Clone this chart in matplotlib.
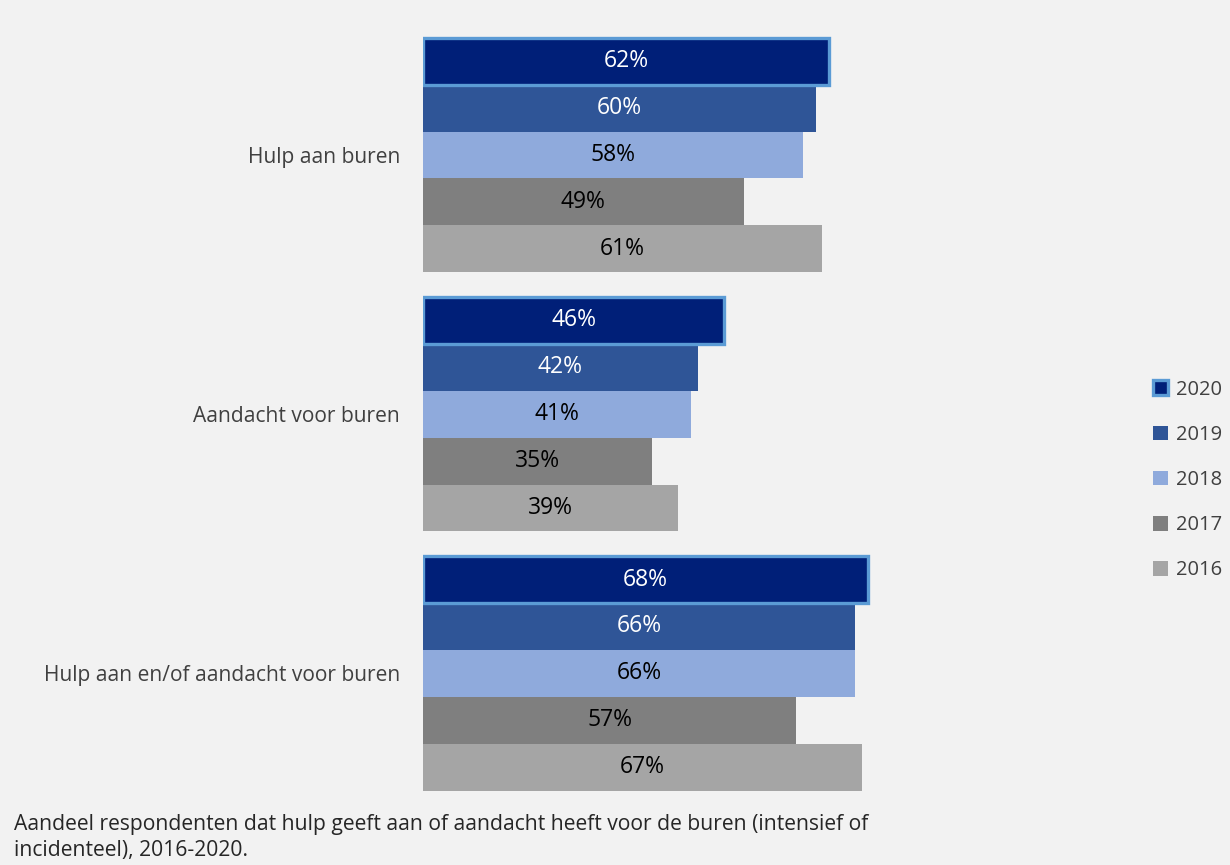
import numpy as np
import matplotlib.pyplot as plt
from matplotlib.patches import Patch

plt.rcParams['font.family'] = ['Open Sans', 'DejaVu Sans']

categories = ['Hulp aan buren', 'Aandacht voor buren', 'Hulp aan en/of aandacht voor buren']
years = ['2020', '2019', '2018', '2017', '2016']
values = {
    '2020': [62, 46, 68],
    '2019': [60, 42, 66],
    '2018': [58, 41, 66],
    '2017': [49, 35, 57],
    '2016': [61, 39, 67],
}
colors = {'2020': '#001f78', '2019': '#2f5597', '2018': '#8faadc',
          '2017': '#7f7f7f', '2016': '#a5a5a5'}
text_colors = {'2020': 'white', '2019': 'white', '2018': 'black',
               '2017': 'black', '2016': 'black'}
caption = ('Aandeel respondenten dat hulp geeft aan of aandacht heeft voor de buren (intensief of\n'
           'incidenteel), 2016-2020.')

bg = '#f2f2f2'
fig = plt.figure(figsize=(12.3, 8.65), dpi=100, facecolor=bg)
ax = fig.add_axes([0.3439, 0.0718, 0.5748, 0.8988])
ax.set_facecolor(bg)

h = 0.181
y = np.arange(len(categories))
for i, yr in enumerate(years):
    pos = y + (i - 2) * h
    if yr == '2020':
        bars = ax.barh(pos, values[yr], height=h, color=colors[yr],
                       edgecolor='#5b9bd5', linewidth=2.4, zorder=3)
    else:
        bars = ax.barh(pos, values[yr], height=h, color=colors[yr], zorder=2)
    for b, v in zip(bars, values[yr]):
        ax.text(v / 2, b.get_y() + h / 2, f'{v}%', ha='center', va='center',
                fontsize=16.5, color=text_colors[yr], zorder=4)

ax.set_xlim(0, 108)
ax.set_ylim(2.5, -0.5)
ax.set_xticks([])
ax.set_yticks(y)
ax.set_yticklabels(categories, fontsize=15.1, color='#404040')
ax.tick_params(axis='y', length=0, pad=16.5)
for s in ax.spines.values():
    s.set_visible(False)

handles = []
for yr in years:
    if yr == '2020':
        handles.append(Patch(facecolor=colors[yr], edgecolor='#5b9bd5', linewidth=2.4, label=yr))
    else:
        handles.append(Patch(facecolor=colors[yr], label=yr))
fig.legend(handles=handles, loc='center left', bbox_to_anchor=(0.9226, 0.445),
           frameon=False, fontsize=14.5, labelcolor='#404040',
           handlelength=0.75, handleheight=0.75, handletextpad=0.4,
           labelspacing=1.25)

fig.text(0.011, 0.059, caption, ha='left', va='top', fontsize=15.2,
         color='#262626', linespacing=1.3)

fig.savefig('out.png', dpi=100, facecolor=bg)
